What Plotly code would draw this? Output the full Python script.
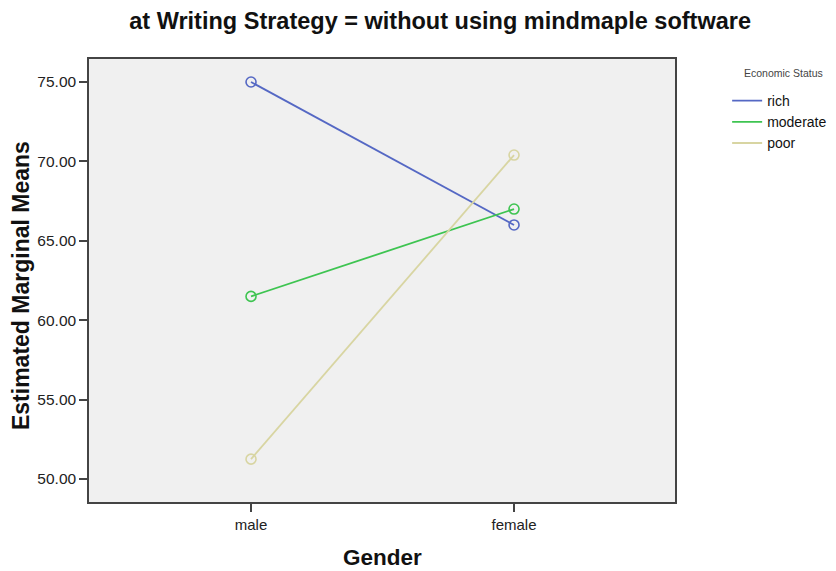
import plotly.graph_objects as go

genders = ["male", "female"]
series_names = ["rich", "moderate", "poor"]
rich = [75.0, 66.0]
moderate = [61.5, 67.0]
poor = [51.25, 70.4]
series_values = [rich, moderate, poor]
colors = ["#5568c4", "#3ec451", "#d8d5a2"]
y_ticks = [50, 55, 60, 65, 70, 75]

fig = go.Figure()
for name, vals, col in zip(series_names, series_values, colors):
    fig.add_trace(go.Scatter(
        x=[0, 1], y=vals, name=name, mode="lines",
        line=dict(color=col, width=1.8), legendgroup=name,
    ))
    fig.add_trace(go.Scatter(
        x=[0, 1], y=vals, name=name, mode="markers", showlegend=False,
        legendgroup=name,
        marker=dict(symbol="circle-open", size=10, color=col, line=dict(width=1.6, color=col)),
    ))

fig.add_annotation(
    text="Economic Status", xref="paper", yref="paper", x=1.185, y=0.968,
    xanchor="center", yanchor="middle", showarrow=False,
    font=dict(size=10.5, color="#444"),
)
fig.add_annotation(
    text="<b>Gender</b>", xref="paper", yref="paper", x=0.5, y=-0.1264,
    xanchor="center", yanchor="middle", showarrow=False,
    font=dict(size=22.5, color="#111"),
)
fig.add_annotation(
    text="<b>Estimated Marginal Means</b>", xref="paper", yref="paper",
    x=-0.116, y=0.4876, textangle=-90,
    xanchor="center", yanchor="middle", showarrow=False,
    font=dict(size=23, color="#111"),
)

fig.update_layout(
    width=820, height=563,
    margin=dict(l=81, r=153, t=51, b=69, autoexpand=False),
    paper_bgcolor="white", plot_bgcolor="#f0f0f0",
    font=dict(family="Liberation Sans, Arial, sans-serif", color="#222"),
    title=dict(text="<b>at Writing Strategy = without using mindmaple software</b>",
               x=0.527, xanchor="center", y=0.9769, yanchor="middle",
               font=dict(size=23.5, color="#111")),
    legend=dict(xref="container", yref="container", x=0.877, xanchor="left",
                y=0.8632, yanchor="top",
                bgcolor="rgba(0,0,0,0)",
                font=dict(size=14, color="#111"), tracegroupgap=0,
                itemwidth=30),
    showlegend=True,
)
fig.update_xaxes(
    range=[-0.616, 1.612], tickmode="array", tickvals=[0, 1], ticktext=genders,
    showgrid=False, zeroline=False, automargin=False,
    showline=True, mirror=True, linecolor="#444", linewidth=1.5,
    ticks="outside", ticklen=8, tickcolor="#444", tickwidth=1.5,
    tickfont=dict(size=15, color="#222"),
)
fig.update_yaxes(
    range=[48.55, 76.45], tickmode="array", tickvals=y_ticks,
    ticktext=[f"{v:.2f}" for v in y_ticks],
    showgrid=False, zeroline=False, automargin=False,
    showline=True, mirror=True, linecolor="#444", linewidth=1.5,
    ticks="outside", ticklen=8, tickcolor="#444", tickwidth=1.5,
    tickfont=dict(size=15.5, color="#222"),
)
fig.write_html("out.html")
